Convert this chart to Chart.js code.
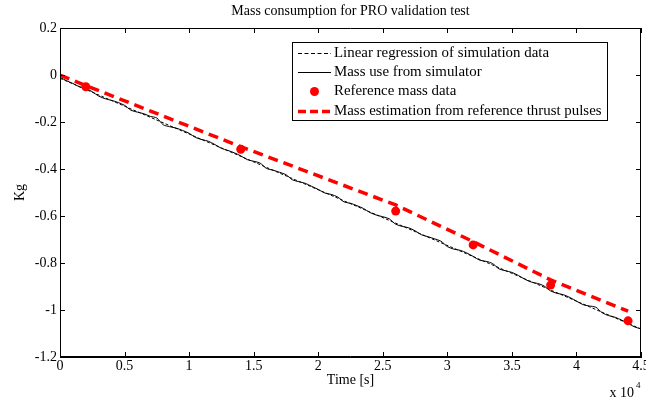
<!DOCTYPE html>
<html lang="en">
<head>
    <meta charset="UTF-8">
    <title>Mass consumption for PRO validation test</title>
    <script src="https://cdn.jsdelivr.net/npm/chart.js"></script>
    <style>
        html, body {
            margin: 0;
            padding: 0;
            background-color: #ffffff;
        }
        .chart-container {
            width: 646px;
            height: 400px;
        }
    </style>
</head>
<body>
    <div class="chart-container">
        <canvas id="massChart" width="646" height="400"></canvas>
    </div>
    <script>
        // time axis [s] and its tick labels (x 10^4)
        const timeTicks = [0, 5000, 10000, 15000, 20000, 25000, 30000, 35000, 40000, 45000];
        const kgTicks = [0.2, 0, -0.2, -0.4, -0.6, -0.8, -1, -1.2];

        // linear regression of simulation data (end points)
        const regTime = [0, 45000];
        const regMass = [-0.014, -1.081];

        // mass use from simulator
        const simTime = [0, 500, 1000, 1500, 2000, 2500, 3000, 3500, 4000, 4500,
            5000, 5500, 6000, 6500, 7000, 7500, 8000, 8500, 9000, 9500,
            10000, 10500, 11000, 11500, 12000, 12500, 13000, 13500, 14000, 14500,
            15000, 15500, 16000, 16500, 17000, 17500, 18000, 18500, 19000, 19500,
            20000, 20500, 21000, 21500, 22000, 22500, 23000, 23500, 24000, 24500,
            25000, 25500, 26000, 26500, 27000, 27500, 28000, 28500, 29000, 29500,
            30000, 30500, 31000, 31500, 32000, 32500, 33000, 33500, 34000, 34500,
            35000, 35500, 36000, 36500, 37000, 37500, 38000, 38500, 39000, 39500,
            40000, 40500, 41000, 41500, 42000, 42500, 43000, 43500, 44000, 44500, 45000];
        const simMass = [-0.010, -0.024, -0.036, -0.050, -0.058, -0.071, -0.090, -0.101, -0.108, -0.117,
            -0.129, -0.150, -0.158, -0.165, -0.176, -0.183, -0.212, -0.220, -0.226, -0.236,
            -0.248, -0.266, -0.275, -0.282, -0.296, -0.312, -0.321, -0.331, -0.344, -0.360,
            -0.367, -0.375, -0.398, -0.405, -0.414, -0.424, -0.446, -0.454, -0.461, -0.474,
            -0.487, -0.502, -0.508, -0.519, -0.540, -0.546, -0.556, -0.568, -0.585, -0.596,
            -0.603, -0.612, -0.635, -0.644, -0.650, -0.663, -0.680, -0.688, -0.697, -0.707,
            -0.730, -0.741, -0.746, -0.757, -0.772, -0.788, -0.793, -0.802, -0.825, -0.833,
            -0.840, -0.853, -0.869, -0.881, -0.887, -0.898, -0.919, -0.929, -0.935, -0.947,
            -0.962, -0.977, -0.983, -0.988, -1.012, -1.024, -1.031, -1.043, -1.057, -1.072, -1.080];

        // reference mass data
        const refTime = [2000, 14000, 26000, 32000, 38000, 44000];
        const refMass = [-0.050, -0.316, -0.579, -0.723, -0.894, -1.046];

        // mass estimation from reference thrust pulses
        const estTime = [0, 2000, 14000, 26000, 32000, 38000, 44000];
        const estMass = [0, -0.045, -0.305, -0.553, -0.709, -0.872, -1.005];

        const toPoints = (xs, ys) => xs.map((x, i) => ({ x: x, y: ys[i] }));

        const serif = "'Liberation Serif', 'Times New Roman', serif";
        const fontSize = 14;

        // MATLAB style box with inward ticks, legend and exponent label
        const matlabFrame = {
            id: 'matlabFrame',
            afterDraw(chart) {
                const ctx = chart.ctx;
                const area = chart.chartArea;
                const left = area.left, right = area.right, top = area.top, bottom = area.bottom;
                const xs = chart.scales.x;
                const ys = chart.scales.y;
                const len = 5;
                ctx.save();
                ctx.globalAlpha = 1;
                ctx.globalCompositeOperation = 'source-over';
                ctx.setLineDash([]);
                ctx.strokeStyle = '#000000';
                ctx.lineWidth = 1;
                ctx.beginPath();
                ctx.moveTo(left, top + 0.5);
                ctx.lineTo(right, top + 0.5);
                ctx.moveTo(right - 0.5, top);
                ctx.lineTo(right - 0.5, bottom);
                ctx.moveTo(left, bottom - 0.5);
                ctx.lineTo(right, bottom - 0.5);
                ctx.moveTo(left + 0.5, top);
                ctx.lineTo(left + 0.5, bottom);
                timeTicks.forEach(t => {
                    const px = Math.round(xs.getPixelForValue(t)) + 0.5;
                    ctx.moveTo(px, bottom);
                    ctx.lineTo(px, bottom - len);
                    ctx.moveTo(px, top);
                    ctx.lineTo(px, top + len);
                });
                kgTicks.forEach(v => {
                    const py = Math.round(ys.getPixelForValue(v)) + 0.5;
                    ctx.moveTo(left, py);
                    ctx.lineTo(left + len, py);
                    ctx.moveTo(right, py);
                    ctx.lineTo(right - len, py);
                });
                ctx.stroke();

                // legend
                const bx = 292, by = 42, bw = 315, bh = 78;
                ctx.fillStyle = '#ffffff';
                ctx.fillRect(bx, by, bw, bh);
                ctx.strokeStyle = '#000000';
                ctx.lineWidth = 1;
                ctx.strokeRect(bx + 0.5, by + 0.5, bw, bh);
                ctx.font = '14.9px ' + serif;
                ctx.textBaseline = 'middle';
                ctx.textAlign = 'left';
                const rows = [11, 30, 49, 69];
                const x0 = bx + 6, x1 = bx + 39;
                chart.data.datasets.forEach((ds, i) => {
                    const yy = by + rows[i] + 0.5;
                    ctx.save();
                    if (ds.showLine === false) {
                        ctx.fillStyle = ds.backgroundColor;
                        ctx.beginPath();
                        ctx.arc((x0 + x1) / 2, yy, ds.pointRadius, 0, Math.PI * 2);
                        ctx.fill();
                    } else {
                        ctx.strokeStyle = ds.borderColor;
                        ctx.lineWidth = ds.borderWidth;
                        ctx.setLineDash(ds.legendDash || []);
                        ctx.beginPath();
                        ctx.moveTo(x0, yy);
                        ctx.lineTo(x1, yy);
                        ctx.stroke();
                    }
                    ctx.restore();
                    ctx.fillStyle = '#000000';
                    ctx.fillText(ds.label, x1 + 3, yy);
                });

                // exponent of the time axis
                ctx.fillStyle = '#000000';
                ctx.textBaseline = 'alphabetic';
                ctx.textAlign = 'right';
                ctx.font = '14px ' + serif;
                ctx.fillText('x 10', right - 7, 397);
                ctx.font = '9px ' + serif;
                ctx.textAlign = 'left';
                ctx.fillText('4', right - 5, 388);
                ctx.restore();
            }
        };

        const massCtx = document.getElementById('massChart').getContext('2d');
        new Chart(massCtx, {
            type: 'line',
            data: {
                datasets: [
                    {
                        label: 'Linear regression of simulation data',
                        data: toPoints(regTime, regMass),
                        borderColor: '#000000',
                        borderWidth: 1,
                        borderDash: [3, 2],
                        legendDash: [4, 2.5],
                        pointRadius: 0,
                        order: 2
                    },
                    {
                        label: 'Mass use from simulator',
                        data: toPoints(simTime, simMass),
                        borderColor: '#000000',
                        borderWidth: 1,
                        pointRadius: 0,
                        tension: 0.3,
                        order: 3
                    },
                    {
                        label: 'Reference mass data',
                        data: toPoints(refTime, refMass),
                        showLine: false,
                        backgroundColor: '#ff0000',
                        borderColor: '#ff0000',
                        borderWidth: 0,
                        pointRadius: 4.5,
                        order: 0
                    },
                    {
                        label: 'Mass estimation from reference thrust pulses',
                        data: toPoints(estTime, estMass),
                        borderColor: '#ff0000',
                        borderWidth: 3.5,
                        borderDash: [10, 6],
                        legendDash: [8, 4],
                        pointRadius: 0,
                        order: 1
                    }
                ]
            },
            options: {
                responsive: false,
                animation: false,
                layout: { padding: { left: 0, right: 0, top: 0, bottom: 0 } },
                plugins: {
                    legend: { display: false },
                    tooltip: { enabled: false },
                    title: {
                        display: true,
                        text: 'Mass consumption for PRO validation test',
                        color: '#000000',
                        fullSize: false,
                        font: { family: serif, size: fontSize, weight: 'normal' },
                        padding: { top: 3, bottom: 8.2 }
                    }
                },
                scales: {
                    x: {
                        type: 'linear',
                        min: 0,
                        max: 45000,
                        grid: { display: false, drawTicks: false },
                        border: { display: true, color: '#000000', width: 1 },
                        afterBuildTicks: scale => { scale.ticks = timeTicks.map(v => ({ value: v })); },
                        ticks: {
                            color: '#000000',
                            font: { family: serif, size: fontSize },
                            padding: 1,
                            maxRotation: 0,
                            autoSkip: false,
                            callback: v => String(v / 10000)
                        },
                        title: {
                            display: true,
                            text: 'Time [s]',
                            color: '#000000',
                            font: { family: serif, size: fontSize },
                            padding: { top: 0, bottom: 11 }
                        },
                        afterFit: scale => { scale.height = 43; scale.paddingRight = 5; }
                    },
                    y: {
                        min: -1.2,
                        max: 0.2,
                        grid: { display: false, drawTicks: false },
                        border: { display: true, color: '#000000', width: 1 },
                        afterBuildTicks: scale => { scale.ticks = kgTicks.map(v => ({ value: v })); },
                        ticks: {
                            color: '#000000',
                            font: { family: serif, size: fontSize },
                            padding: 3,
                            callback: v => String(Math.round(v * 10) / 10)
                        },
                        title: {
                            display: true,
                            text: 'Kg',
                            color: '#000000',
                            font: { family: serif, size: fontSize },
                            padding: { top: 12, bottom: 0 }
                        },
                        afterFit: scale => { scale.width = 60; }
                    }
                }
            },
            plugins: [matlabFrame]
        });
    </script>
</body>
</html>
